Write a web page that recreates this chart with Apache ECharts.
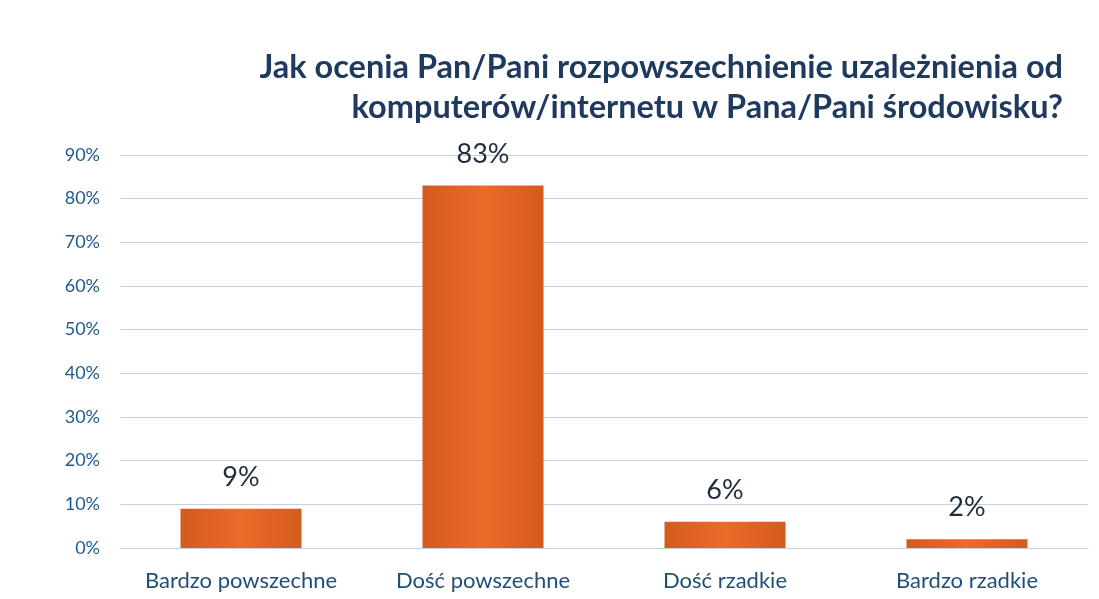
<!DOCTYPE html>
<html>
<head>
<meta charset="utf-8">
<script src="https://cdn.jsdelivr.net/npm/echarts@6/dist/echarts.min.js"></script>
<style>
  html, body { margin: 0; padding: 0; background: #fff; }
  #container { width: 1099px; height: 599px; }
</style>
</head>
<body>
<div id="container"></div>
<script>
// data
var categories = ['Bardzo powszechne', 'Dość powszechne', 'Dość rzadkie', 'Bardzo rzadkie'];
var values = [9, 83, 6, 2];
var yTicks = [0, 10, 20, 30, 40, 50, 60, 70, 80, 90];
var titleLines = [
    'Jak ocenia Pan/Pani rozpowszechnienie uzależnienia od',
    'komputerów/internetu w Pana/Pani środowisku?'
];

var dom = document.getElementById('container');
var myChart = echarts.init(dom, null, { renderer: 'canvas' });

var option = {
    backgroundColor: '#ffffff',
    animation: false,
    graphic: titleLines.map(function (line, i) {
        return {
            type: 'text',
            right: 36,
            top: 51 + i * 40,
            style: {
                text: line,
                font: 'bold 32.5px Lato',
                fill: '#1f3a5f'
            }
        };
    }),
    grid: {
        left: 120,
        right: 11,
        top: 155,
        bottom: 51,
        containLabel: false
    },
    xAxis: {
        type: 'category',
        data: categories,
        axisLine: { show: true, lineStyle: { color: '#c9d0da', width: 1 } },
        axisTick: { show: false },
        axisLabel: {
            interval: 0,
            margin: 22,
            fontFamily: 'Lato',
            fontSize: 22,
            color: '#1f4e79'
        }
    },
    yAxis: {
        type: 'value',
        min: yTicks[0],
        max: yTicks[yTicks.length - 1],
        interval: 10,
        axisLine: { show: false },
        axisTick: { show: false },
        axisLabel: {
            margin: 20,
            fontFamily: 'Lato',
            fontSize: 18,
            color: '#1f5a8c',
            formatter: '{value}%'
        },
        splitLine: { lineStyle: { color: '#c9d0da', width: 1 } }
    },
    series: [
        {
            type: 'bar',
            data: values,
            barWidth: '50%',
            itemStyle: {
                color: new echarts.graphic.LinearGradient(0, 0, 1, 0, [
                    { offset: 0, color: '#d45a1e' },
                    { offset: 0.5, color: '#ea6b2a' },
                    { offset: 1, color: '#d45a1e' }
                ])
            },
            label: {
                show: true,
                position: 'top',
                distance: 18,
                fontFamily: 'Lato',
                fontSize: 27,
                color: '#1e2c3d',
                formatter: '{c}%'
            }
        }
    ]
};

myChart.setOption(option);
window.addEventListener('resize', myChart.resize);
</script>
</body>
</html>
